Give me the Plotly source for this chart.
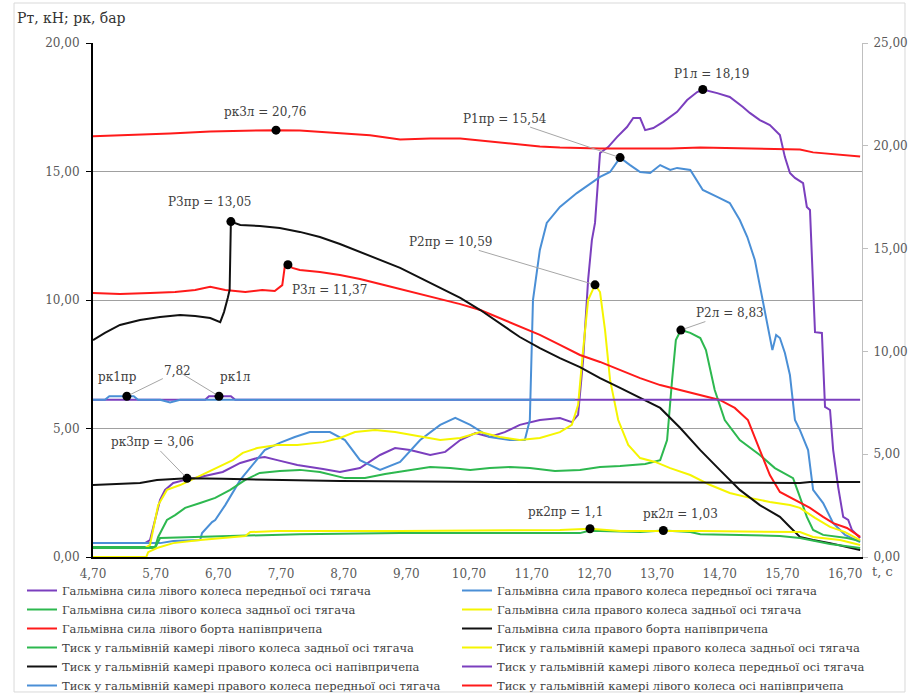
import plotly.graph_objects as go

SERIF = "DejaVu Serif"

# ---- time (s) / value pairs for every series ----
# braking forces, kN (left axis)
P1L = [(4.70, 0.54), (5.53, 0.54), (5.61, 0.66), (5.69, 1.44), (5.77, 2.22), (5.85, 2.61), (5.98, 2.88),
       (6.17, 3.00), (6.41, 3.11), (6.77, 3.31), (7.05, 3.66), (7.32, 3.85), (7.44, 3.89), (7.64, 3.77),
       (7.96, 3.58), (8.37, 3.42), (8.64, 3.31), (8.96, 3.46), (9.28, 3.97), (9.52, 4.24), (9.76, 4.16),
       (10.08, 3.97), (10.32, 4.09), (10.56, 4.55), (10.80, 4.82), (11.03, 4.67), (11.27, 4.86), (11.51, 5.14),
       (11.83, 5.33), (12.15, 5.41), (12.34, 5.25), (12.44, 5.53), (12.52, 7.67), (12.60, 10.78), (12.66, 12.33),
       (12.71, 13.00), (12.79, 15.72), (12.92, 15.95), (13.06, 16.34), (13.22, 16.73), (13.32, 17.08),
       (13.43, 17.08), (13.51, 16.61), (13.64, 16.69), (13.80, 16.93), (14.02, 17.32), (14.18, 17.78),
       (14.34, 18.09), (14.43, 18.19), (14.66, 18.05), (14.86, 17.90), (15.07, 17.51), (15.18, 17.28),
       (15.34, 17.00), (15.50, 16.81), (15.66, 16.42), (15.74, 15.56), (15.82, 14.94), (15.90, 14.75),
       (16.03, 14.55), (16.09, 13.62), (16.14, 13.50), (16.19, 10.39), (16.22, 8.75), (16.33, 8.72),
       (16.38, 5.84), (16.46, 5.72), (16.51, 4.16), (16.59, 2.72), (16.67, 1.56), (16.75, 1.44),
       (16.81, 1.05), (16.94, 0.74)]

P1PR = [(4.70, 0.54), (5.58, 0.54), (5.77, 0.54), (5.98, 0.62), (6.41, 0.66), (6.44, 0.93), (6.52, 1.13),
        (6.60, 1.36), (6.65, 1.44), (6.81, 2.02), (7.05, 3.00), (7.29, 3.70), (7.44, 4.16), (7.68, 4.44),
        (7.92, 4.67), (8.16, 4.86), (8.48, 4.86), (8.72, 4.55), (8.96, 3.77), (9.28, 3.39), (9.60, 3.70),
        (9.92, 4.55), (10.24, 5.14), (10.48, 5.41), (10.72, 5.14), (11.03, 4.67), (11.35, 4.55), (11.59, 4.55),
        (11.67, 5.33), (11.72, 10.00), (11.83, 11.95), (11.94, 13.00), (12.15, 13.62), (12.42, 14.16),
        (12.79, 14.79), (12.95, 14.98), (13.11, 15.54), (13.27, 15.25), (13.43, 14.98), (13.59, 14.94),
        (13.75, 15.25), (13.91, 15.06), (14.02, 15.14), (14.23, 15.06), (14.43, 14.28), (14.66, 14.01),
        (14.86, 13.77), (15.02, 13.11), (15.14, 12.45), (15.26, 11.56), (15.38, 10.00), (15.47, 8.83),
        (15.54, 8.05), (15.60, 8.64), (15.66, 8.52), (15.74, 7.94), (15.82, 7.08), (15.90, 5.33),
        (15.98, 4.94), (16.11, 4.16), (16.19, 2.61), (16.35, 2.10), (16.51, 1.32), (16.70, 0.86), (16.94, 0.58)]

P2L = [(4.70, 0.39), (5.69, 0.39), (5.74, 0.78), (5.82, 1.17), (5.88, 1.44), (6.01, 1.63), (6.17, 1.91),
       (6.41, 2.10), (6.65, 2.30), (6.89, 2.61), (7.13, 3.00), (7.36, 3.27), (7.68, 3.35), (8.00, 3.39),
       (8.32, 3.31), (8.72, 3.07), (9.04, 3.07), (9.36, 3.23), (9.76, 3.39), (10.08, 3.50), (10.40, 3.46),
       (10.72, 3.39), (11.03, 3.46), (11.35, 3.50), (11.67, 3.46), (12.07, 3.35), (12.47, 3.39), (12.79, 3.50),
       (13.11, 3.54), (13.51, 3.62), (13.75, 3.77), (13.86, 4.55), (13.94, 6.89), (14.00, 8.44), (14.08, 8.83),
       (14.23, 8.72), (14.39, 8.52), (14.48, 8.05), (14.62, 6.50), (14.78, 5.33), (15.02, 4.55), (15.34, 3.97),
       (15.58, 3.46), (15.74, 3.23), (15.87, 3.07), (15.98, 2.33), (16.09, 1.56), (16.19, 1.05), (16.35, 0.86),
       (16.73, 0.74), (16.94, 0.62)]

P2PR = [(4.70, 0.35), (5.53, 0.35), (5.61, 0.47), (5.69, 1.44), (5.74, 2.02), (5.88, 2.61), (6.09, 2.80),
        (6.33, 3.07), (6.61, 3.39), (6.93, 3.77), (7.09, 4.05), (7.32, 4.24), (7.64, 4.36), (7.96, 4.36),
        (8.37, 4.47), (8.64, 4.63), (8.88, 4.86), (9.20, 4.94), (9.52, 4.86), (9.84, 4.71), (10.24, 4.55),
        (10.56, 4.63), (10.88, 4.86), (11.19, 4.67), (11.51, 4.55), (11.83, 4.63), (12.15, 4.86), (12.34, 5.14),
        (12.44, 5.91), (12.52, 8.05), (12.60, 10.00), (12.71, 10.59), (12.79, 10.31), (12.87, 8.83),
        (12.95, 6.89), (13.08, 5.33), (13.24, 4.36), (13.43, 3.85), (13.67, 3.70), (13.91, 3.46), (14.23, 3.19),
        (14.55, 2.80), (14.86, 2.49), (15.18, 2.30), (15.50, 2.14), (15.82, 2.02), (15.98, 1.91), (16.22, 1.52),
        (16.46, 1.17), (16.70, 0.97), (16.94, 0.66)]

P3L = [(4.70, 10.27), (5.13, 10.23), (5.61, 10.27), (6.01, 10.31), (6.33, 10.39), (6.57, 10.51), (6.81, 10.39),
       (7.13, 10.31), (7.40, 10.39), (7.60, 10.35), (7.72, 10.58), (7.76, 11.30), (7.81, 11.37), (7.88, 11.25),
       (8.00, 11.17), (8.32, 11.09), (8.64, 10.97), (8.96, 10.82), (9.28, 10.62), (9.60, 10.43), (9.92, 10.23),
       (10.24, 10.04), (10.56, 9.84), (10.88, 9.61), (11.19, 9.30), (11.51, 8.99), (11.83, 8.64), (12.15, 8.25),
       (12.47, 7.86), (12.79, 7.59), (13.11, 7.28), (13.43, 6.96), (13.75, 6.69), (14.07, 6.50), (14.39, 6.30),
       (14.70, 6.11), (14.94, 5.80), (15.15, 5.33), (15.34, 4.16), (15.50, 3.19), (15.66, 2.53), (15.82, 2.33),
       (15.98, 2.10), (16.14, 1.91), (16.35, 1.56), (16.51, 1.32), (16.73, 1.13), (16.94, 0.78)]

P3PR = [(4.70, 8.44), (4.89, 8.72), (5.13, 9.03), (5.45, 9.22), (5.77, 9.34), (6.09, 9.42), (6.33, 9.38),
        (6.57, 9.30), (6.73, 9.14), (6.79, 9.53), (6.85, 10.08), (6.88, 10.39), (6.90, 13.05), (7.05, 12.92),
        (7.36, 12.88), (7.68, 12.80), (8.00, 12.65), (8.32, 12.45), (8.64, 12.18), (8.96, 11.87), (9.28, 11.56),
        (9.60, 11.25), (9.92, 10.86), (10.24, 10.47), (10.56, 10.08), (10.88, 9.61), (11.19, 9.11),
        (11.51, 8.56), (11.83, 8.13), (12.15, 7.74), (12.47, 7.39), (12.79, 6.96), (13.11, 6.58), (13.43, 6.19),
        (13.75, 5.80), (14.07, 5.02), (14.39, 4.16), (14.70, 3.39), (15.02, 2.61), (15.34, 2.02), (15.66, 1.56),
        (15.82, 1.17), (15.98, 0.78), (16.19, 0.66), (16.46, 0.54), (16.73, 0.39), (16.94, 0.27)]

# chamber pressures, bar
PK2L = [(4.70, 0.35), (5.69, 0.35), (5.77, 0.74), (6.41, 0.78), (6.89, 0.82), (7.36, 0.86), (8.00, 0.89),
        (9.60, 0.93), (11.19, 0.93), (12.47, 0.93), (12.60, 1.01), (12.79, 1.01), (13.43, 0.97), (13.80, 1.03),
        (14.23, 0.97), (14.39, 0.89), (15.02, 0.86), (15.66, 0.82), (15.98, 0.74), (16.22, 0.62), (16.46, 0.51),
        (16.94, 0.35)]

PK2PR = [(4.70, 0.00), (5.55, 0.00), (5.58, 0.19), (5.72, 0.35), (5.98, 0.54), (6.41, 0.66), (7.13, 0.82),
         (7.21, 0.97), (7.64, 1.01), (9.60, 1.01), (12.15, 1.05), (12.63, 1.10), (13.11, 1.01), (14.39, 1.01),
         (15.98, 0.97), (16.19, 0.78), (16.62, 0.66), (16.94, 0.47)]

PK3PR = [(4.70, 2.80), (5.45, 2.88), (5.72, 3.00), (6.04, 3.04), (6.20, 3.06), (6.77, 3.04), (7.84, 3.00),
         (8.64, 2.96), (11.19, 2.92), (15.98, 2.88), (16.14, 2.92), (16.94, 2.92)]

PK1L = [(4.70, 7.65), (6.49, 7.65), (6.55, 7.82), (6.71, 7.82), (6.90, 7.82), (6.97, 7.65), (16.94, 7.65)]

PK1PR = [(4.70, 7.65), (4.89, 7.65), (4.96, 7.82), (5.24, 7.82), (5.35, 7.82), (5.42, 7.65), (5.77, 7.65),
         (5.93, 7.52), (6.09, 7.65), (8.00, 7.65), (12.39, 7.65)]

PK3L = [(4.70, 20.46), (5.29, 20.51), (5.93, 20.60), (6.57, 20.70), (7.21, 20.74), (7.62, 20.76), (8.00, 20.75),
        (8.48, 20.65), (9.12, 20.51), (9.60, 20.31), (10.08, 20.36), (10.56, 20.36), (11.03, 20.21),
        (11.46, 20.07), (11.83, 19.97), (12.15, 19.92), (12.79, 19.87), (13.32, 19.87), (13.91, 19.87),
        (14.39, 19.92), (15.18, 19.87), (15.66, 19.82), (15.98, 19.82), (16.19, 19.68), (16.62, 19.58),
        (16.94, 19.48)]

# labelled points: (name, time, value, axis, text offset x, y, leader line)
MARKS = [
    ("Р1л", 14.43, 18.19, "y", 9, -16, False),
    ("Р1пр", 13.11, 15.54, "y", -115, -39, True),
    ("Р3пр", 6.90, 13.05, "y", -21, -20, False),
    ("Р3л", 7.81, 11.37, "y", 42, 25, False),
    ("Р2пр", 12.71, 10.59, "y", -145, -43, True),
    ("Р2л", 14.08, 8.83, "y", 49, -17, True),
    ("рк3пр", 6.20, 3.06, "y", -35, -36, True),
    ("рк2пр", 12.63, 1.1, "y", -25, -17, False),
    ("рк2л", 13.80, 1.03, "y", 17, -17, False),
    ("рк3л", 7.62, 20.76, "y2", -11, -18, False),
]
# the two front-axle chamber pressures share one value label
PK1_MARKS = [("рк1пр", 5.24, 7.82, -9, -19, 51, -25), ("рк1л", 6.71, 7.82, 17, -19, -41, -25)]

# ---- series styling, in legend order ----
PURPLE, BLUE, GREEN, YELLOW, RED, BLACK = "#7B3FBE", "#4A8FD6", "#2DB84F", "#F5F500", "#FF1A1A", "#111111"
SERIES = [
    (P1L, "Гальмівна сила лівого колеса передньої осі тягача", PURPLE, "y", "legend"),
    (P1PR, "Гальмівна сила правого колеса передньої осі тягача", BLUE, "y", "legend2"),
    (P2L, "Гальмівна сила лівого колеса задньої осі тягача", GREEN, "y", "legend"),
    (P2PR, "Гальмівна сила правого колеса задньої осі тягача", YELLOW, "y", "legend2"),
    (P3L, "Гальмівна сила лівого борта напівпричепа", RED, "y", "legend"),
    (P3PR, "Гальмівна сила правого борта напівпричепа", BLACK, "y", "legend2"),
    (PK2L, "Тиск у гальмівній камері лівого колеса задньої осі тягача", GREEN, "y", "legend"),
    (PK2PR, "Тиск у гальмівній камері правого колеса задньої осі тягача", YELLOW, "y", "legend2"),
    (PK3PR, "Тиск у гальмівній камері правого колеса осі напівпричепа", BLACK, "y", "legend"),
    (PK1L, "Тиск у гальмівній камері лівого колеса передньої осі тягача", PURPLE, "y2", "legend2"),
    (PK1PR, "Тиск у гальмівній камері правого колеса передньої осі тягача", BLUE, "y2", "legend"),
    (PK3L, "Тиск у гальмівній камері лівого колеса осі напівпричепа", RED, "y2", "legend2"),
]

fig = go.Figure()
for pairs, name, color, yax, leg in SERIES:
    t, v = zip(*pairs)
    fig.add_trace(go.Scatter(x=t, y=v, mode="lines", name=name, yaxis=yax, legend=leg,
                             line=dict(color=color, width=2), hoverinfo="x+y+name"))


def fmt(v):
    return str(v).replace(".", ",")


LEADER = "#a6a6a6"
LABEL_FONT = dict(family=SERIF, size=12, color="#404040")
annotations = []
for yax in ("y", "y2"):
    pts = [m for m in MARKS if m[3] == yax]
    if yax == "y2":
        pts += [(n, t, v, "y2", 0, 0, False) for n, t, v, *_ in PK1_MARKS]
    fig.add_trace(go.Scatter(x=[p[1] for p in pts], y=[p[2] for p in pts], mode="markers", yaxis=yax,
                             marker=dict(color="black", size=9), showlegend=False, hoverinfo="skip"))

for name, t, v, yax, dx, dy, leader in MARKS:
    common = dict(x=t, y=v, yref=yax, xref="x", text=f"{name} = {fmt(v)}", font=LABEL_FONT)
    if leader:
        annotations.append(dict(**common, showarrow=True, ax=dx, ay=dy, arrowhead=0, arrowwidth=1,
                                arrowcolor=LEADER, standoff=4))
    else:
        annotations.append(dict(**common, showarrow=False, xshift=dx, yshift=-dy))

# one shared value text with a leader to each of the two points
for i, (name, t, v, dx, dy, lx, ly) in enumerate(PK1_MARKS):
    annotations.append(dict(x=t, y=v, xref="x", yref="y2", text=name, showarrow=False, xshift=dx, yshift=-dy,
                            font=LABEL_FONT))
    annotations.append(dict(x=t, y=v, xref="x", yref="y2", text=fmt(v) if i == 0 else " ", showarrow=True,
                            ax=lx, ay=ly, arrowhead=0, arrowwidth=1, arrowcolor=LEADER, standoff=4,
                            font=LABEL_FONT))

annotations.append(dict(xref="paper", yref="paper", x=-0.1014, y=1.0486, xanchor="left", yanchor="middle",
                        text="Рт, кН; рк, бар", showarrow=False,
                        font=dict(family=SERIF, size=14, color="#333333")))
annotations.append(dict(xref="paper", yref="paper", x=1.0104, y=-0.029, xanchor="left", yanchor="middle",
                        text="t, с", showarrow=False, font=dict(family=SERIF, size=13, color="#595959")))

TICKFONT = dict(family=SERIF, size=12, color="#595959")
T0, T1 = 4.70, 16.97
LEG_FONT = dict(family=SERIF, size=11.5, color="#404040")
LEG_Y = (557 - 576) / 514

fig.update_layout(
    width=917, height=695,
    margin=dict(l=93, r=55, t=43, b=138, autoexpand=False),
    paper_bgcolor="white", plot_bgcolor="white",
    font=dict(family=SERIF, size=13, color="#404040"),
    separators=", ",
    xaxis=dict(range=[T0, T1], tick0=T0, dtick=1, tickformat=".2f", showgrid=False, zeroline=False,
               ticks="", showline=True, linecolor="black", linewidth=2, tickfont=TICKFONT,
               ticklabelstandoff=5),
    xaxis2=dict(range=[T0, T1], overlaying="x", anchor="y", side="bottom", tick0=T0, dtick=0.75,
                showgrid=True, gridcolor="#b4b4b4", gridwidth=1, showticklabels=False, ticks="",
                zeroline=False, showline=False),
    yaxis=dict(range=[0, 20], tick0=0, dtick=5, tickformat=".2f", showgrid=True, gridcolor="#a0a0a0",
               zeroline=False, showline=True, linecolor="black", linewidth=2, ticks="outside", ticklen=5,
               tickcolor="black", tickfont=TICKFONT, ticklabelstandoff=4),
    yaxis2=dict(range=[0, 25], tick0=0, dtick=5, tickformat=".2f", overlaying="y", side="right",
                showgrid=False, zeroline=False, showline=True, linecolor="#bfbfbf", linewidth=1,
                ticks="outside", ticklen=5, tickcolor="#bfbfbf", tickfont=TICKFONT, ticklabelstandoff=3),
    legend=dict(x=(22 - 93) / 769, y=LEG_Y, xanchor="left", yanchor="top", font=LEG_FONT,
                bgcolor="rgba(0,0,0,0)", tracegroupgap=0),
    legend2=dict(x=(457 - 93) / 769, y=LEG_Y, xanchor="left", yanchor="top", font=LEG_FONT,
                 bgcolor="rgba(0,0,0,0)", tracegroupgap=0),
    annotations=annotations,
    shapes=[dict(type="rect", xref="paper", yref="paper", x0=-0.1027, x1=1.0559, y0=-0.2626, y1=1.0778,
                 line=dict(color="#d9d9d9", width=1), layer="below")],
)

fig.write_html("out.html")
